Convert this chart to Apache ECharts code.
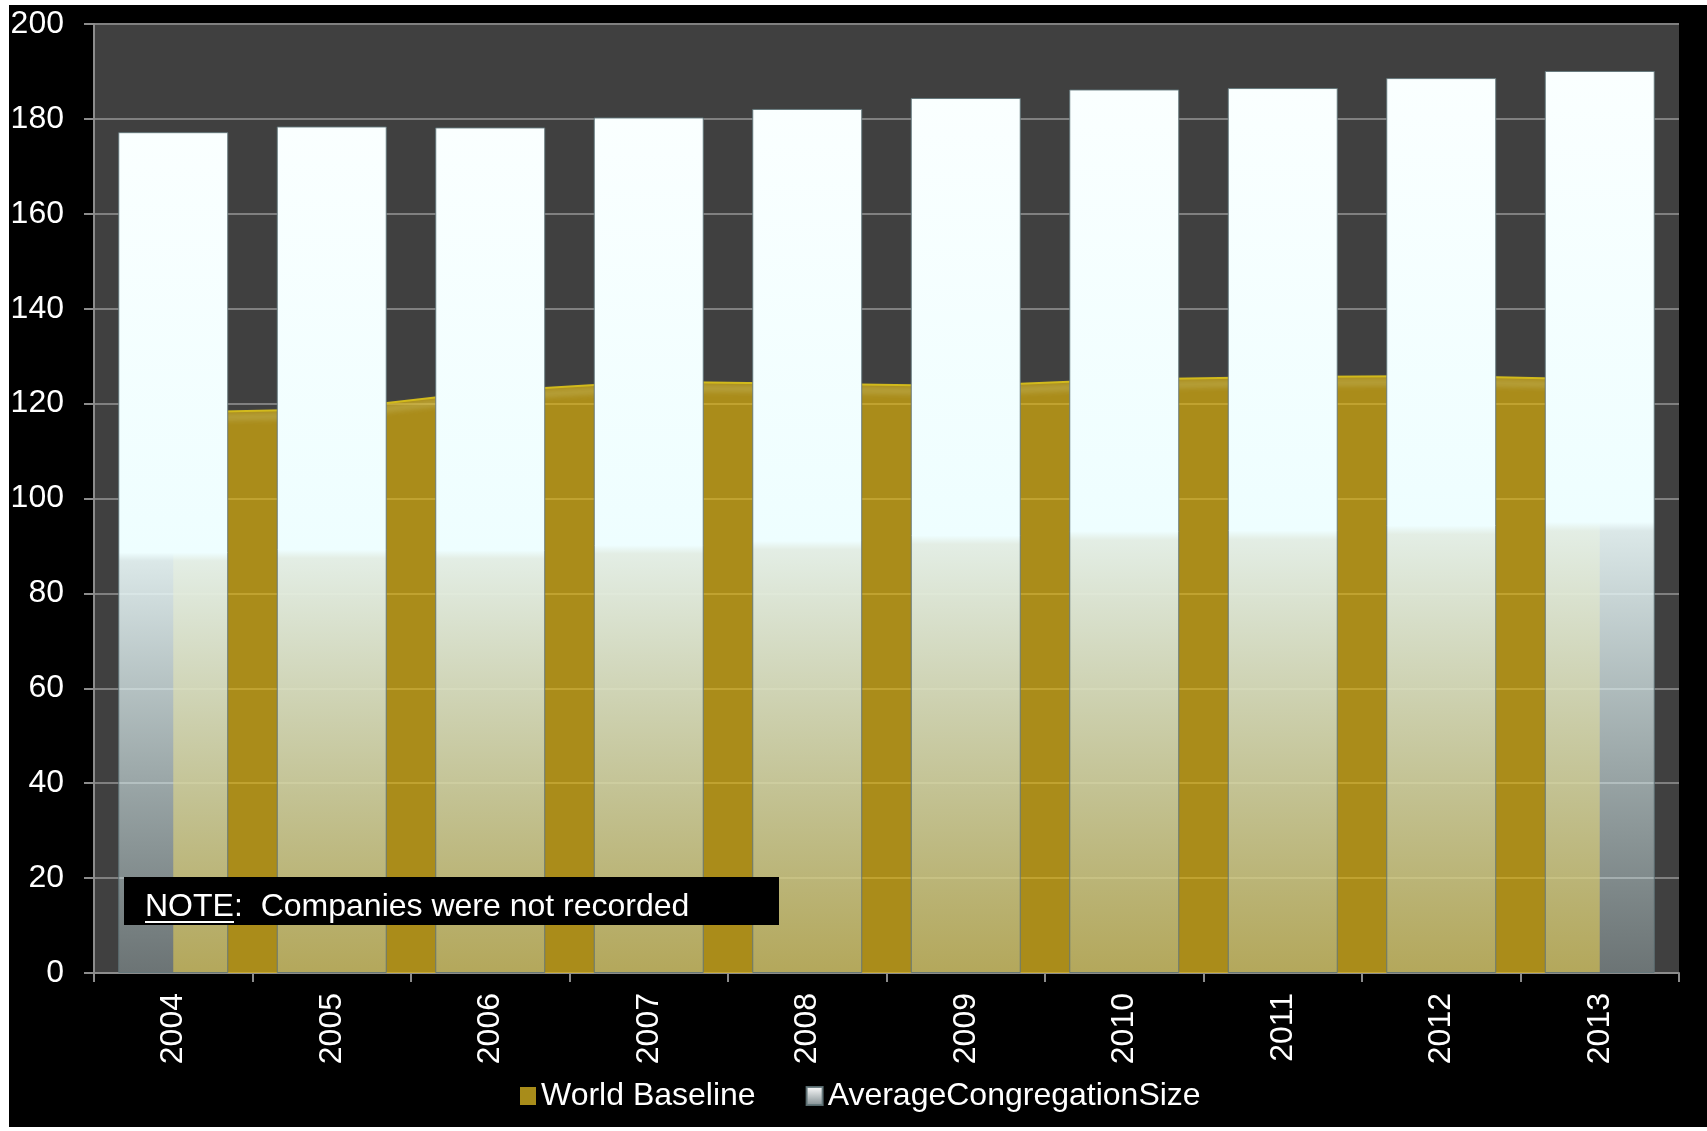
<!DOCTYPE html>
<html>
<head>
<meta charset="utf-8">
<script src="https://cdn.jsdelivr.net/npm/echarts@6/dist/echarts.min.js"></script>
<style>
html,body{margin:0;padding:0;background:#fff;}
#c{width:1707px;height:1131px;}
</style>
</head>
<body>
<div id="c"></div>
<script>
const categories = ['2004','2005','2006','2007','2008','2009','2010','2011','2012','2013'];
const worldBaseline = [118.1, 118.8, 122.6, 124.6, 124.2, 123.7, 125.1, 125.6, 125.8, 125.1];
const avgCongregation = [177.2, 178.4, 178.2, 180.3, 182.1, 184.4, 186.2, 186.5, 188.6, 190.1];
const yMin = 0, yMax = 200, yStep = 20;
const noteLabel = 'NOTE';
const noteText = ':  Companies were not recorded';

const FONT = 'Liberation Sans, Arial, sans-serif';
const FS = 32;

const barGrad = new echarts.graphic.LinearGradient(0, 0, 0, 1, [
  {offset: 0, color: 'rgba(250,255,255,1)'},
  {offset: 0.5, color: 'rgba(238,254,255,1)'},
  {offset: 0.51, color: 'rgba(232,246,246,0.92)'},
  {offset: 1, color: 'rgba(200,225,228,0.32)'}
]);
const legendBarGrad = new echarts.graphic.LinearGradient(0, 0, 0, 1, [
  {offset: 0, color: '#ffffff'},
  {offset: 1, color: '#7f8c90'}
]);

const chart = echarts.init(document.getElementById('c'), null, {renderer: 'canvas'});
chart.setOption({
  backgroundColor: '#000000',
  animation: false,
  grid: {
    left: 94, right: 28, top: 24, bottom: 158,
    show: true, backgroundColor: '#404040', borderWidth: 0
  },
  legend: {
    left: 515, top: 1075,
    itemWidth: 16, itemHeight: 18, itemGap: 50,
    textStyle: {color: '#ffffff', fontSize: FS, fontFamily: FONT},
    data: [
      {name: 'World Baseline', icon: 'rect', itemStyle: {color: '#a88c1a'}},
      {name: 'AverageCongregationSize', icon: 'rect', itemStyle: {color: legendBarGrad}}
    ]
  },
  xAxis: {
    type: 'category',
    data: categories,
    boundaryGap: true,
    axisLine: {show: true, lineStyle: {color: '#8c8c8c', width: 2}},
    axisTick: {show: true, length: 9, lineStyle: {color: '#8c8c8c', width: 2}},
    axisLabel: {rotate: 90, margin: 20, color: '#ffffff', fontSize: FS, fontFamily: FONT},
    splitLine: {show: false}
  },
  yAxis: {
    type: 'value',
    min: yMin, max: yMax, interval: yStep,
    axisLine: {show: true, lineStyle: {color: '#8c8c8c', width: 2}},
    axisTick: {show: true, length: 10, lineStyle: {color: '#8c8c8c', width: 2}},
    axisLabel: {margin: 30, color: '#ffffff', fontSize: FS, fontFamily: FONT},
    splitLine: {show: true, lineStyle: {color: '#808080', width: 2}}
  },
  series: [
    {
      name: 'World Baseline',
      type: 'line',
      z: 1,
      data: worldBaseline,
      showSymbol: false,
      symbol: 'none',
      lineStyle: {color: '#d2ba1c', width: 2, shadowColor: 'rgba(215,215,150,0.9)', shadowBlur: 6, shadowOffsetY: 6},
      areaStyle: {color: 'rgb(224,179,6)', opacity: 0.66},
      itemStyle: {color: '#a88c1a'}
    },
    {
      name: 'AverageCongregationSize',
      type: 'bar',
      z: 3,
      data: avgCongregation,
      barCategoryGap: '30.6%',
      itemStyle: {color: barGrad, borderColor: 'rgba(95,115,120,0.9)', borderWidth: 1}
    }
  ],
  graphic: [
    {type: 'rect', z: 200, shape: {x: 0, y: 0, width: 9, height: 1131}, style: {fill: '#ffffff'}},
    {type: 'rect', z: 200, shape: {x: 0, y: 0, width: 1707, height: 5}, style: {fill: '#ffffff'}},
    {type: 'rect', z: 200, shape: {x: 0, y: 1127, width: 1707, height: 4}, style: {fill: '#ffffff'}},
    {type: 'rect', z: 100, shape: {x: 124, y: 877, width: 655, height: 48}, style: {fill: '#000000'}},
    {type: 'text', z: 101, x: 145, y: 907, style: {text: noteLabel, fill: '#ffffff', font: FS + 'px ' + FONT, textVerticalAlign: 'middle', verticalAlign: 'middle'}},
    {type: 'rect', z: 101, shape: {x: 145, y: 921, width: 89, height: 2}, style: {fill: '#ffffff'}},
    {type: 'text', z: 101, x: 234, y: 907, style: {text: noteText, fill: '#ffffff', font: FS + 'px ' + FONT, textVerticalAlign: 'middle', verticalAlign: 'middle'}}
  ]
});
</script>
</body>
</html>
